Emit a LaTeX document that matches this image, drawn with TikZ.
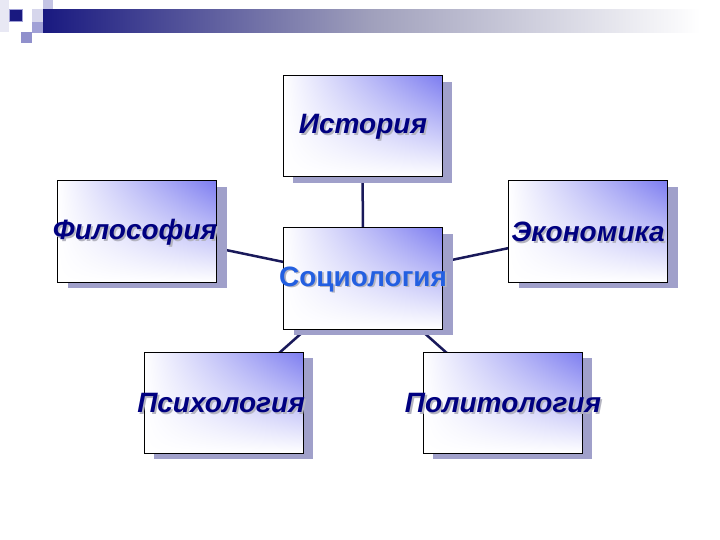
\documentclass[tikz,border=0pt]{standalone}
\usepackage{fontspec}
\setmainfont{Liberation Sans}
\usetikzlibrary{shadows,shadings}
\definecolor{navy}{RGB}{0,0,128}
\definecolor{socblue}{RGB}{35,95,225}
\definecolor{boxblue}{RGB}{125,125,240}
\definecolor{shadowcol}{RGB}{160,160,202}
\definecolor{txtshadow}{RGB}{180,180,192}
\definecolor{conncol}{RGB}{25,25,90}
\definecolor{barnavy}{RGB}{25,25,128}
\definecolor{palelav}{RGB}{232,232,244}
\definecolor{lav1}{RGB}{214,214,236}
\definecolor{lav2}{RGB}{196,196,228}
\definecolor{lav3}{RGB}{160,160,214}
\definecolor{lav4}{RGB}{144,144,204}
\newcommand{\shtxt}[2]{\makebox[0pt][l]{\hspace{1.8pt}\raisebox{-1.8pt}{\textcolor{txtshadow}{#2}}}\textcolor{#1}{#2}}
\pgfdeclarelayer{background}
\pgfsetlayers{background,main}
\begin{document}
\begin{tikzpicture}[x=1pt,y=-1pt,
  boxnode/.style={rectangle, draw=black, line width=1pt, minimum width=159pt, minimum height=101pt,
    inner sep=0pt, upper left=white, upper right=boxblue, lower left=white, lower right=white,
    drop shadow={shadow xshift=10pt, shadow yshift=-6pt, fill=shadowcol, opacity=1}},
  lbl/.style={font=\fontsize{28}{32}\selectfont\bfseries\itshape, inner sep=0pt},
  soclbl/.style={font=\fontsize{28}{32}\selectfont\bfseries, inner sep=0pt},
  conn/.style={draw=conncol, line width=2.5pt}]
\useasboundingbox (0,0) rectangle (720,540);
% top-left decoration
\fill[palelav] (0,0) rectangle (9,32);
\fill[lav2] (43,0) rectangle (53,10);
\fill[lav1] (32,9) rectangle (43,22);
\fill[lav3] (32,22) rectangle (43,33);
\fill[lav4] (21,32) rectangle (32,43);
\fill[barnavy, draw=lav3, line width=1pt] (9,10) rectangle (22,22);
\shade[left color=barnavy, right color=white, middle color={rgb,255:red,160;green,160;blue,188}] (43,10) rectangle (700,33);
% boxes
\node[boxnode] (hist) at (362.5,126.5) {};
\node[boxnode] (phil) at (137,231.5) {};
\node[boxnode] (econ) at (588,231.5) {};
\node[boxnode] (soc) at (363,278.5) {};
\node[boxnode] (psy) at (223.5,402.5) {};
\node[boxnode] (pol) at (502.5,402.5) {};
% connectors
\begin{pgfonlayer}{background}
\draw[conn] (hist.center) -- (soc.center);
\draw[conn] (phil.center) -- (soc.center);
\draw[conn] (econ.center) -- (soc.center);
\draw[conn] (psy.center) -- (soc.center);
\draw[conn] (pol.center) -- (soc.center);
\end{pgfonlayer}
% labels
\node[lbl] (hist-t) at (363,128) {\shtxt{navy}{История}};
\node[lbl] (phil-t) at (135,233) {\shtxt{navy}{Философия}};
\node[lbl] (econ-t) at (588,233) {\shtxt{navy}{Экономика}};
\node[soclbl] (soc-t) at (363,280) {\shtxt{socblue}{Социология}};
\node[lbl] (psy-t) at (221,404) {\shtxt{navy}{Психология}};
\node[lbl] (pol-t) at (503,404) {\shtxt{navy}{Политология}};
\end{tikzpicture}
\end{document}
